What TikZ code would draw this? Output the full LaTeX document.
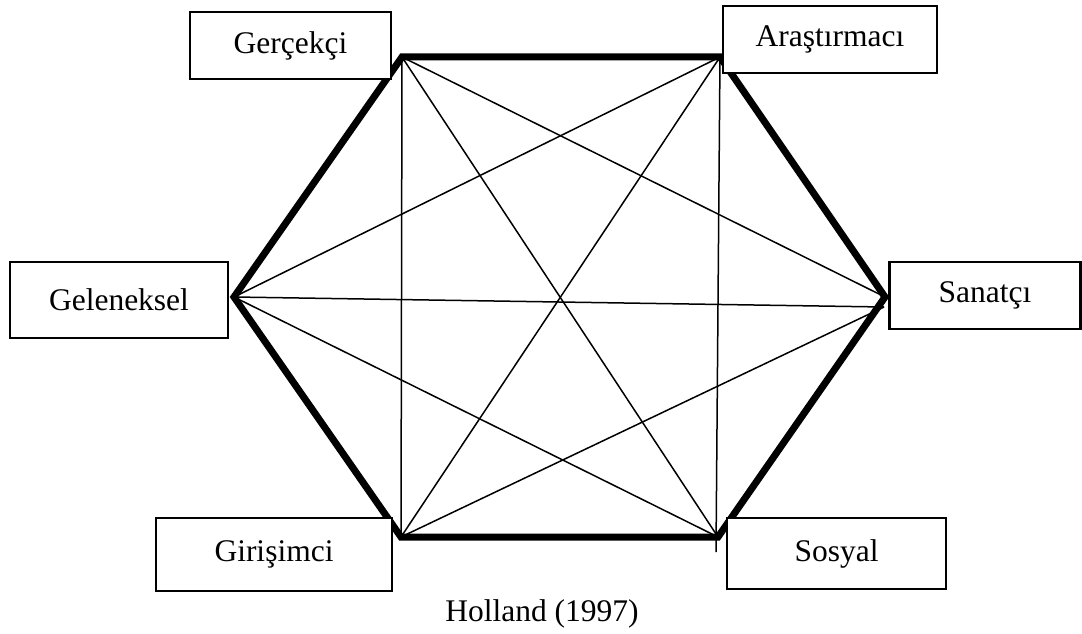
\documentclass[tikz,border=0pt]{standalone}
\usepackage{fontspec}
\setmainfont{Liberation Serif}
\begin{document}
\begin{tikzpicture}[x=1pt,y=-1pt,
  typebox/.style={draw=black,fill=white,line width=2.5pt,inner sep=0pt,font=\fontsize{31.5}{38}\selectfont},
  hexedge/.style={line width=7pt,line join=miter,line cap=round},
  thin/.style={line width=1.5pt}]
\useasboundingbox (0,0) rectangle (1082,634);
% vertices
\coordinate (TL) at (402,57);
\coordinate (TR) at (720,57);
\coordinate (L) at (234,297);
\coordinate (R) at (885,297);
\coordinate (BL) at (401,537);
\coordinate (BR) at (718,537);
\coordinate (Rt) at (884,307);
\coordinate (BRx) at (716,552);
% thin connections
\draw[thin] (TL) -- (BL);
\draw[thin] (TL) -- (R);
\draw[thin] (TL) -- (BR);
\draw[thin] (TR) -- (L);
\draw[thin] (TR) -- (BL);
\draw[thin] (TR) -- (BRx);
\draw[thin] (L) -- (Rt);
\draw[thin] (L) -- (BR);
\draw[thin] (BL) -- (Rt);
% hexagon
\draw[hexedge] (TL) -- (TR) -- (R) -- (BR) -- (BL) -- (L) -- cycle;
% labels
\node[typebox,minimum width=201pt,minimum height=67pt] (ger) at (290.5,45.5) {Gerçekçi};
\node[typebox,minimum width=214pt,minimum height=67pt] (ara) at (830,39.5) {Araştırmacı};
\node[typebox,minimum width=218pt,minimum height=76pt] (gel) at (119,300) {Geleneksel};
\node[typebox,minimum width=191pt,minimum height=67pt] (san) at (985,295.5) {Sanatçı};
\node[typebox,minimum width=236pt,minimum height=73pt] (gir) at (274,554.5) {Girişimci};
\node[typebox,minimum width=219pt,minimum height=71pt] (sos) at (836.5,553.5) {Sosyal};
\node[font=\fontsize{31.5}{38}\selectfont,inner sep=0pt] (src) at (542,614) {Holland (1997)};
\end{tikzpicture}
\end{document}
